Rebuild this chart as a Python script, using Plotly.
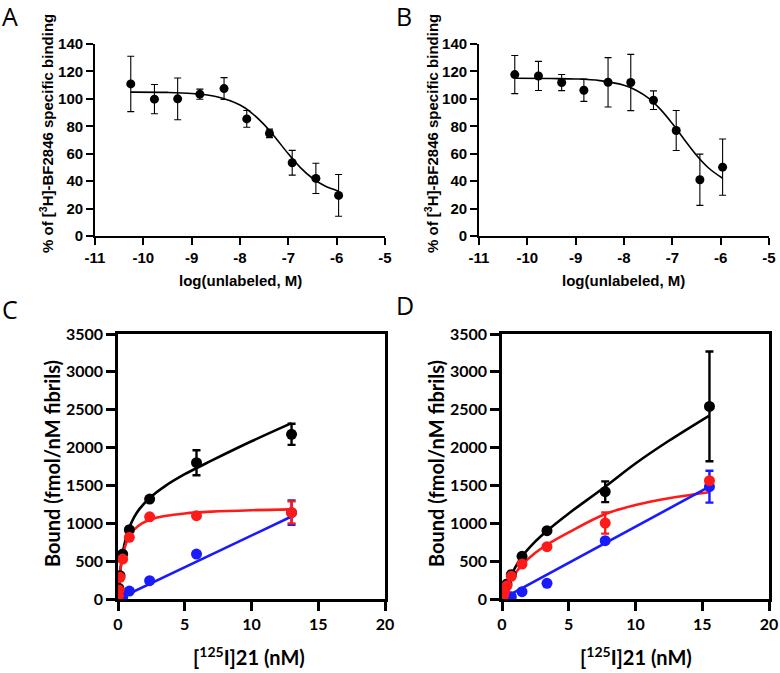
import plotly.graph_objects as go

W, H = 780, 673

# ---------------- Panel A / B data (competition binding) ----------------
log_conc = [-10.26, -9.77, -9.29, -8.83, -8.33, -7.86, -7.39, -6.92, -6.43, -5.96]
a_mean = [110.9, 99.8, 100.0, 103.4, 107.5, 85.4, 74.8, 53.4, 42.0, 29.6]
a_err = [20.2, 10.7, 15.2, 3.7, 8.0, 6.1, 3.1, 9.0, 11.0, 15.2]
b_mean = [117.7, 116.7, 111.9, 106.3, 112.1, 111.9, 99.0, 76.9, 41.0, 50.2]
b_err = [13.9, 10.6, 5.9, 8.1, 18.0, 20.5, 6.8, 14.6, 18.7, 20.5]

fit_x = [-10.26, -9.5, -9.0, -8.5, -8.0, -7.75, -7.5, -7.25, -7.0, -6.75, -6.5, -6.25, -5.96]
a_fit = [104.9, 104.7, 103.9, 101.7, 95.5, 89.5, 81.2, 70.9, 59.9, 49.9, 42.1, 36.6, 32.7]
b_fit = [115.0, 114.8, 114.5, 113.3, 109.9, 106.3, 100.7, 92.5, 82.0, 70.2, 58.9, 49.6, 42.1]

ab_xticks = [-11, -10, -9, -8, -7, -6, -5]
ab_xticklabels = ["-11", "-10", "-9", "-8", "-7", "-6", "-5"]
ab_yticks = [0, 20, 40, 60, 80, 100, 120, 140]
ab_yticklabels = ["0", "20", "40", "60", "80", "100", "120", "140"]
ab_xtitle = "log(unlabeled, M)"
ab_ytitle = "% of [<sup>3</sup>H]-BF2846 specific binding"

# ---------------- Panel C data (saturation binding) ----------------
c_conc = [0.03, 0.07, 0.15, 0.35, 0.85, 2.37, 5.88, 13.0]
c_total = [50, 141, 308, 594, 915, 1320, 1800, 2175]
c_total_err = [0, 0, 0, 0, 0, 0, 165, 140]
c_specific = [44, 120, 286, 528, 814, 1085, 1100, 1144]
c_specific_err = [0, 0, 0, 0, 0, 0, 0, 145]
c_nonspec = [3, 6, 13, 25, 105, 242, 594, 1140]
c_nonspec_err = [0, 0, 0, 0, 0, 0, 0, 160]

c_fit_total_x = [0, 0.1, 0.2, 0.37, 0.6, 0.82, 1.2, 1.6, 2.37, 3.5, 5, 7, 10, 13]
c_fit_total = [0, 241, 415, 623, 809, 931, 1078, 1187, 1334, 1488, 1648, 1827, 2083, 2323]
c_fit_spec_x = [0, 0.1, 0.2, 0.35, 0.6, 0.85, 1.2, 1.8, 2.5, 3.5, 5, 7, 10, 13]
c_fit_spec = [0, 244, 407, 569, 732, 830, 915, 998, 1052, 1095, 1130, 1154, 1173, 1184]
c_fit_ns_x = [0, 13]
c_fit_ns = [0, 1090]

# ---------------- Panel D data ----------------
d_conc = [0.05, 0.12, 0.2, 0.37, 0.7, 1.5, 3.37, 7.73, 15.54]
d_total = [40, 70, 110, 198, 321, 563, 902, 1417, 2544]
d_total_err = [0, 0, 0, 0, 0, 0, 0, 137, 725]
d_specific = [30, 53, 101, 176, 299, 462, 691, 1003, 1562]
d_specific_err = [0, 0, 0, 0, 0, 0, 0, 140, 0]
d_nonspec = [2, 5, 9, 15, 31, 97, 207, 770, 1483]
d_nonspec_err = [0, 0, 0, 0, 0, 0, 0, 0, 210]

d_fit_x = [0, 0.2, 0.5, 1, 1.5, 2.5, 3.4, 5, 7.7, 10, 12.5, 15.5]
d_fit_total = [0, 120, 260, 420, 560, 760, 905, 1130, 1480, 1790, 2090, 2420]
d_fit_spec = [0, 85, 200, 340, 450, 610, 720, 880, 1120, 1240, 1330, 1410]
d_fit_ns_x = [0, 15.5]
d_fit_ns = [0, 1480]

cd_xticks = [0, 5, 10, 15, 20]
cd_xticklabels = ["0", "5", "10", "15", "20"]
cd_yticks = [0, 500, 1000, 1500, 2000, 2500, 3000, 3500]
cd_yticklabels = ["0", "500", "1000", "1500", "2000", "2500", "3000", "3500"]
cd_xtitle = "[<sup>125</sup>I]21 (nM)"
cd_ytitle = "Bound (fmol/nM fibrils)"

panel_letters = ["A", "B", "C", "D"]

BLACK = "#000000"
RED = "#ff1a1a"
BLUE = "#1a1aff"

fig = go.Figure()

# ---- A and B ----
for (mean, err, fit, xa, ya) in [(a_mean, a_err, a_fit, "x", "y"),
                                 (b_mean, b_err, b_fit, "x2", "y2")]:
    fig.add_trace(go.Scatter(x=fit_x, y=fit, mode="lines", line=dict(color=BLACK, width=1.6, shape="spline"),
                             xaxis=xa, yaxis=ya, showlegend=False, hoverinfo="skip"))
    fig.add_trace(go.Scatter(x=log_conc, y=mean, mode="markers",
                             marker=dict(color=BLACK, size=9),
                             error_y=dict(type="data", array=err, color=BLACK, thickness=1.1, width=3.5),
                             xaxis=xa, yaxis=ya, showlegend=False))

# ---- C and D ----
def add_sat(xa, ya, conc, tot, tot_e, spec, spec_e, ns, ns_e,
            ftx, ft, fsx, fs, fnx, fn):
    fig.add_trace(go.Scatter(x=ftx, y=ft, mode="lines", line=dict(color=BLACK, width=2.6, shape="spline"),
                             xaxis=xa, yaxis=ya, showlegend=False, hoverinfo="skip"))
    fig.add_trace(go.Scatter(x=fsx, y=fs, mode="lines", line=dict(color=RED, width=2.6, shape="spline"),
                             xaxis=xa, yaxis=ya, showlegend=False, hoverinfo="skip"))
    fig.add_trace(go.Scatter(x=fnx, y=fn, mode="lines", line=dict(color=BLUE, width=2.6),
                             xaxis=xa, yaxis=ya, showlegend=False, hoverinfo="skip"))
    fig.add_trace(go.Scatter(x=conc, y=tot, mode="markers", marker=dict(color=BLACK, size=11),
                             error_y=dict(type="data", array=tot_e, color=BLACK, thickness=2.4, width=4),
                             xaxis=xa, yaxis=ya, showlegend=False))
    fig.add_trace(go.Scatter(x=conc, y=ns, mode="markers", marker=dict(color=BLUE, size=11),
                             error_y=dict(type="data", array=ns_e, color=BLUE, thickness=2.4, width=4),
                             xaxis=xa, yaxis=ya, showlegend=False))
    fig.add_trace(go.Scatter(x=conc, y=spec, mode="markers", marker=dict(color=RED, size=11),
                             error_y=dict(type="data", array=spec_e, color=RED, thickness=2.4, width=4),
                             xaxis=xa, yaxis=ya, showlegend=False))

add_sat("x3", "y3", c_conc, c_total, c_total_err, c_specific, c_specific_err, c_nonspec, c_nonspec_err,
        c_fit_total_x, c_fit_total, c_fit_spec_x, c_fit_spec, c_fit_ns_x, c_fit_ns)
add_sat("x4", "y4", d_conc, d_total, d_total_err, d_specific, d_specific_err, d_nonspec, d_nonspec_err,
        d_fit_x, d_fit_total, d_fit_x, d_fit_spec, d_fit_ns_x, d_fit_ns)

def px_x(v):
    return v / W

def px_y(v):
    return 1 - v / H

def bold(labels):
    return ["<b>%s</b>" % s for s in labels]

ab_font = dict(family="Liberation Sans", size=15, color=BLACK)
ab_title_font = dict(family="Liberation Sans", size=15, color=BLACK)
cd_font = dict(family="Lato", size=16, color=BLACK)
cd_title_font = dict(family="Lato", size=20, color=BLACK)

def ab_xaxis(domain, anchor):
    return dict(domain=domain, anchor=anchor, range=[-11, -5], tickmode="array",
                tickvals=ab_xticks, ticktext=bold(ab_xticklabels), showline=True, linecolor=BLACK,
                linewidth=1.8, ticks="outside", ticklen=7, tickwidth=1.8, tickcolor=BLACK,
                tickfont=ab_font, showgrid=False, zeroline=False)

def ab_yaxis(domain, anchor):
    return dict(domain=domain, anchor=anchor, range=[0, 140], tickmode="array",
                tickvals=ab_yticks, ticktext=bold(ab_yticklabels), showline=True, linecolor=BLACK,
                linewidth=1.8, ticks="outside", ticklen=7, tickwidth=1.8, tickcolor=BLACK,
                tickfont=ab_font, showgrid=False, zeroline=False)

def cd_xaxis(domain, anchor):
    return dict(domain=domain, anchor=anchor, range=[0, 20], tickmode="array",
                tickvals=cd_xticks, ticktext=bold(cd_xticklabels), showline=True, mirror=True,
                linecolor=BLACK, linewidth=2.6, ticks="outside", ticklen=9, tickwidth=2.6,
                tickcolor=BLACK, tickfont=cd_font, showgrid=False, zeroline=False)

def cd_yaxis(domain, anchor):
    return dict(domain=domain, anchor=anchor, range=[0, 3500], tickmode="array",
                tickvals=cd_yticks, ticktext=bold(cd_yticklabels), showline=True, mirror=True,
                linecolor=BLACK, linewidth=2.6, ticks="outside", ticklen=9, tickwidth=2.6,
                tickcolor=BLACK, tickfont=cd_font, showgrid=False, zeroline=False)

top_y = [px_y(236), px_y(44)]
bot_y = [px_y(599), px_y(334)]

fig.update_layout(
    width=W, height=H, margin=dict(l=0, r=0, t=0, b=0, autoexpand=False),
    paper_bgcolor="white", plot_bgcolor="white",
    xaxis=ab_xaxis([px_x(95), px_x(385)], "y"),
    yaxis=ab_yaxis(top_y, "x"),
    xaxis2=ab_xaxis([px_x(479), px_x(769)], "y2"),
    yaxis2=ab_yaxis(top_y, "x2"),
    xaxis3=cd_xaxis([px_x(118), px_x(385)], "y3"),
    yaxis3=cd_yaxis(bot_y, "x3"),
    xaxis4=cd_xaxis([px_x(502), px_x(769)], "y4"),
    yaxis4=cd_yaxis(bot_y, "x4"),
)

ann = []

def add_ann(text, x, y, font, angle=0, xanchor="center"):
    ann.append(dict(text=text, x=px_x(x), y=px_y(y), xref="paper", yref="paper",
                    showarrow=False, font=font, textangle=angle, xanchor=xanchor, yanchor="middle"))

add_ann("<b>%s</b>" % ab_ytitle, 47, 134, ab_title_font, -90)
add_ann("<b>%s</b>" % ab_ytitle, 432, 134, ab_title_font, -90)
add_ann("<b>%s</b>" % ab_xtitle, 240, 280, ab_title_font)
add_ann("<b>%s</b>" % ab_xtitle, 623, 280, ab_title_font)
add_ann("<b>%s</b>" % cd_ytitle, 52, 464, cd_title_font, -90)
add_ann("<b>%s</b>" % cd_ytitle, 436, 464, cd_title_font, -90)
add_ann("<b>%s</b>" % cd_xtitle, 249, 656, cd_title_font)
add_ann("<b>%s</b>" % cd_xtitle, 636, 656, cd_title_font)

letter_font = dict(family="Open Sans", size=25, color=BLACK)
letter_pos = [(0, 16), (394, 16), (0, 309), (394, 305)]
for letter, (lx, ly) in zip(panel_letters, letter_pos):
    add_ann(letter, lx, ly, letter_font, xanchor="left")

fig.update_layout(annotations=ann)
fig.write_html("out.html", config={"displayModeBar": False},
               post_script="document.body.style.margin='0px';")
